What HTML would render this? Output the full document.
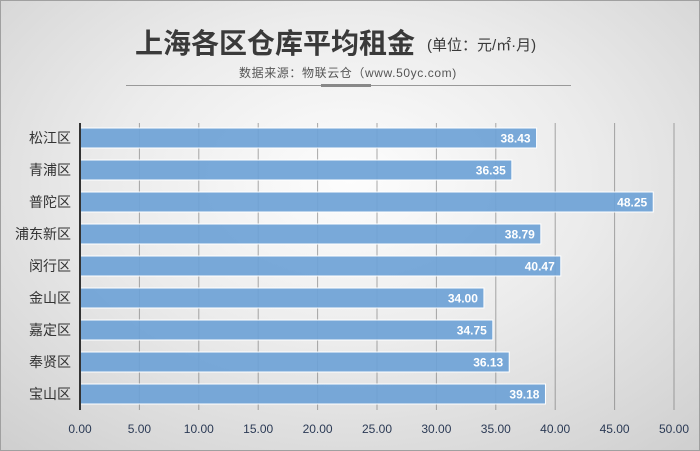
<!DOCTYPE html>
<html><head><meta charset="utf-8"><style>
body{margin:0}
#c{position:relative;width:698px;height:449px;border:1px solid #a0a0a0;overflow:hidden;
background:radial-gradient(ellipse 75% 80% at 50% 40%,#fdfdfd 0%,#ececec 45%,#cfcfcf 100%);
font-family:"Liberation Sans","Noto Sans CJK SC",sans-serif}
.t{position:absolute;white-space:nowrap}
</style></head><body><div id="c">
<div class="t" style="left:134px;top:27px;font-size:28px;line-height:32px;font-weight:bold;color:#3a3a3a">上海各区仓库平均租金</div>
<div class="t" style="left:426px;top:36px;font-size:15px;line-height:18px;color:#3a3a3a">(单位：元/㎡·月)</div>
<div class="t" style="left:238px;top:65px;font-size:12px;line-height:14px;letter-spacing:0.6px;color:#555">数据来源：物联云仓（www.50yc.com)</div>
<div style="position:absolute;left:125px;top:84px;width:445px;height:1px;background:#999"></div>
<div style="position:absolute;left:320px;top:83px;width:50px;height:3px;background:#888"></div>
<svg width="698" height="449" style="position:absolute;left:0;top:0" font-family="Liberation Sans,Noto Sans CJK SC,sans-serif">
<g id="bars"></g>
</svg>
</div>
<script>
const d=[["松江区",38.43],["青浦区",36.35],["普陀区",48.25],["浦东新区",38.79],["闵行区",40.47],["金山区",34.00],["嘉定区",34.75],["奉贤区",36.13],["宝山区",39.18]];
let s='';const x0=79,k=11.88;
for(let v=5;v<=50;v+=5){const x=x0+v*k;s+=`<line x1="${x}" y1="122" x2="${x}" y2="409" stroke="#666" stroke-opacity="0.55" stroke-width="1"/>`;}
d.forEach((r,i)=>{const cy=137+i*32,w=r[1]*k;
s+=`<rect x="${x0}" y="${cy-10}" width="${w}" height="20" fill="#6fa3d6" fill-opacity="0.93" stroke="#fff" stroke-width="1"/>`;
s+=`<text x="${x0+w-6}" y="${cy+4.5}" text-anchor="end" font-size="12" font-weight="bold" fill="#fff">${r[1].toFixed(2)}</text>`;
s+=`<text x="70" y="${cy+5}" text-anchor="end" font-size="14" fill="#333">${r[0]}</text>`;});
for(let v=0;v<=50;v+=5){s+=`<text x="${x0+v*k}" y="432" text-anchor="middle" font-size="12" fill="#2b3a55">${v.toFixed(2)}</text>`;}
s+=`<line x1="${x0}" y1="122" x2="${x0}" y2="409" stroke="#333" stroke-width="2"/>`;
document.getElementById('bars').innerHTML=s;
</script>
</body></html>
